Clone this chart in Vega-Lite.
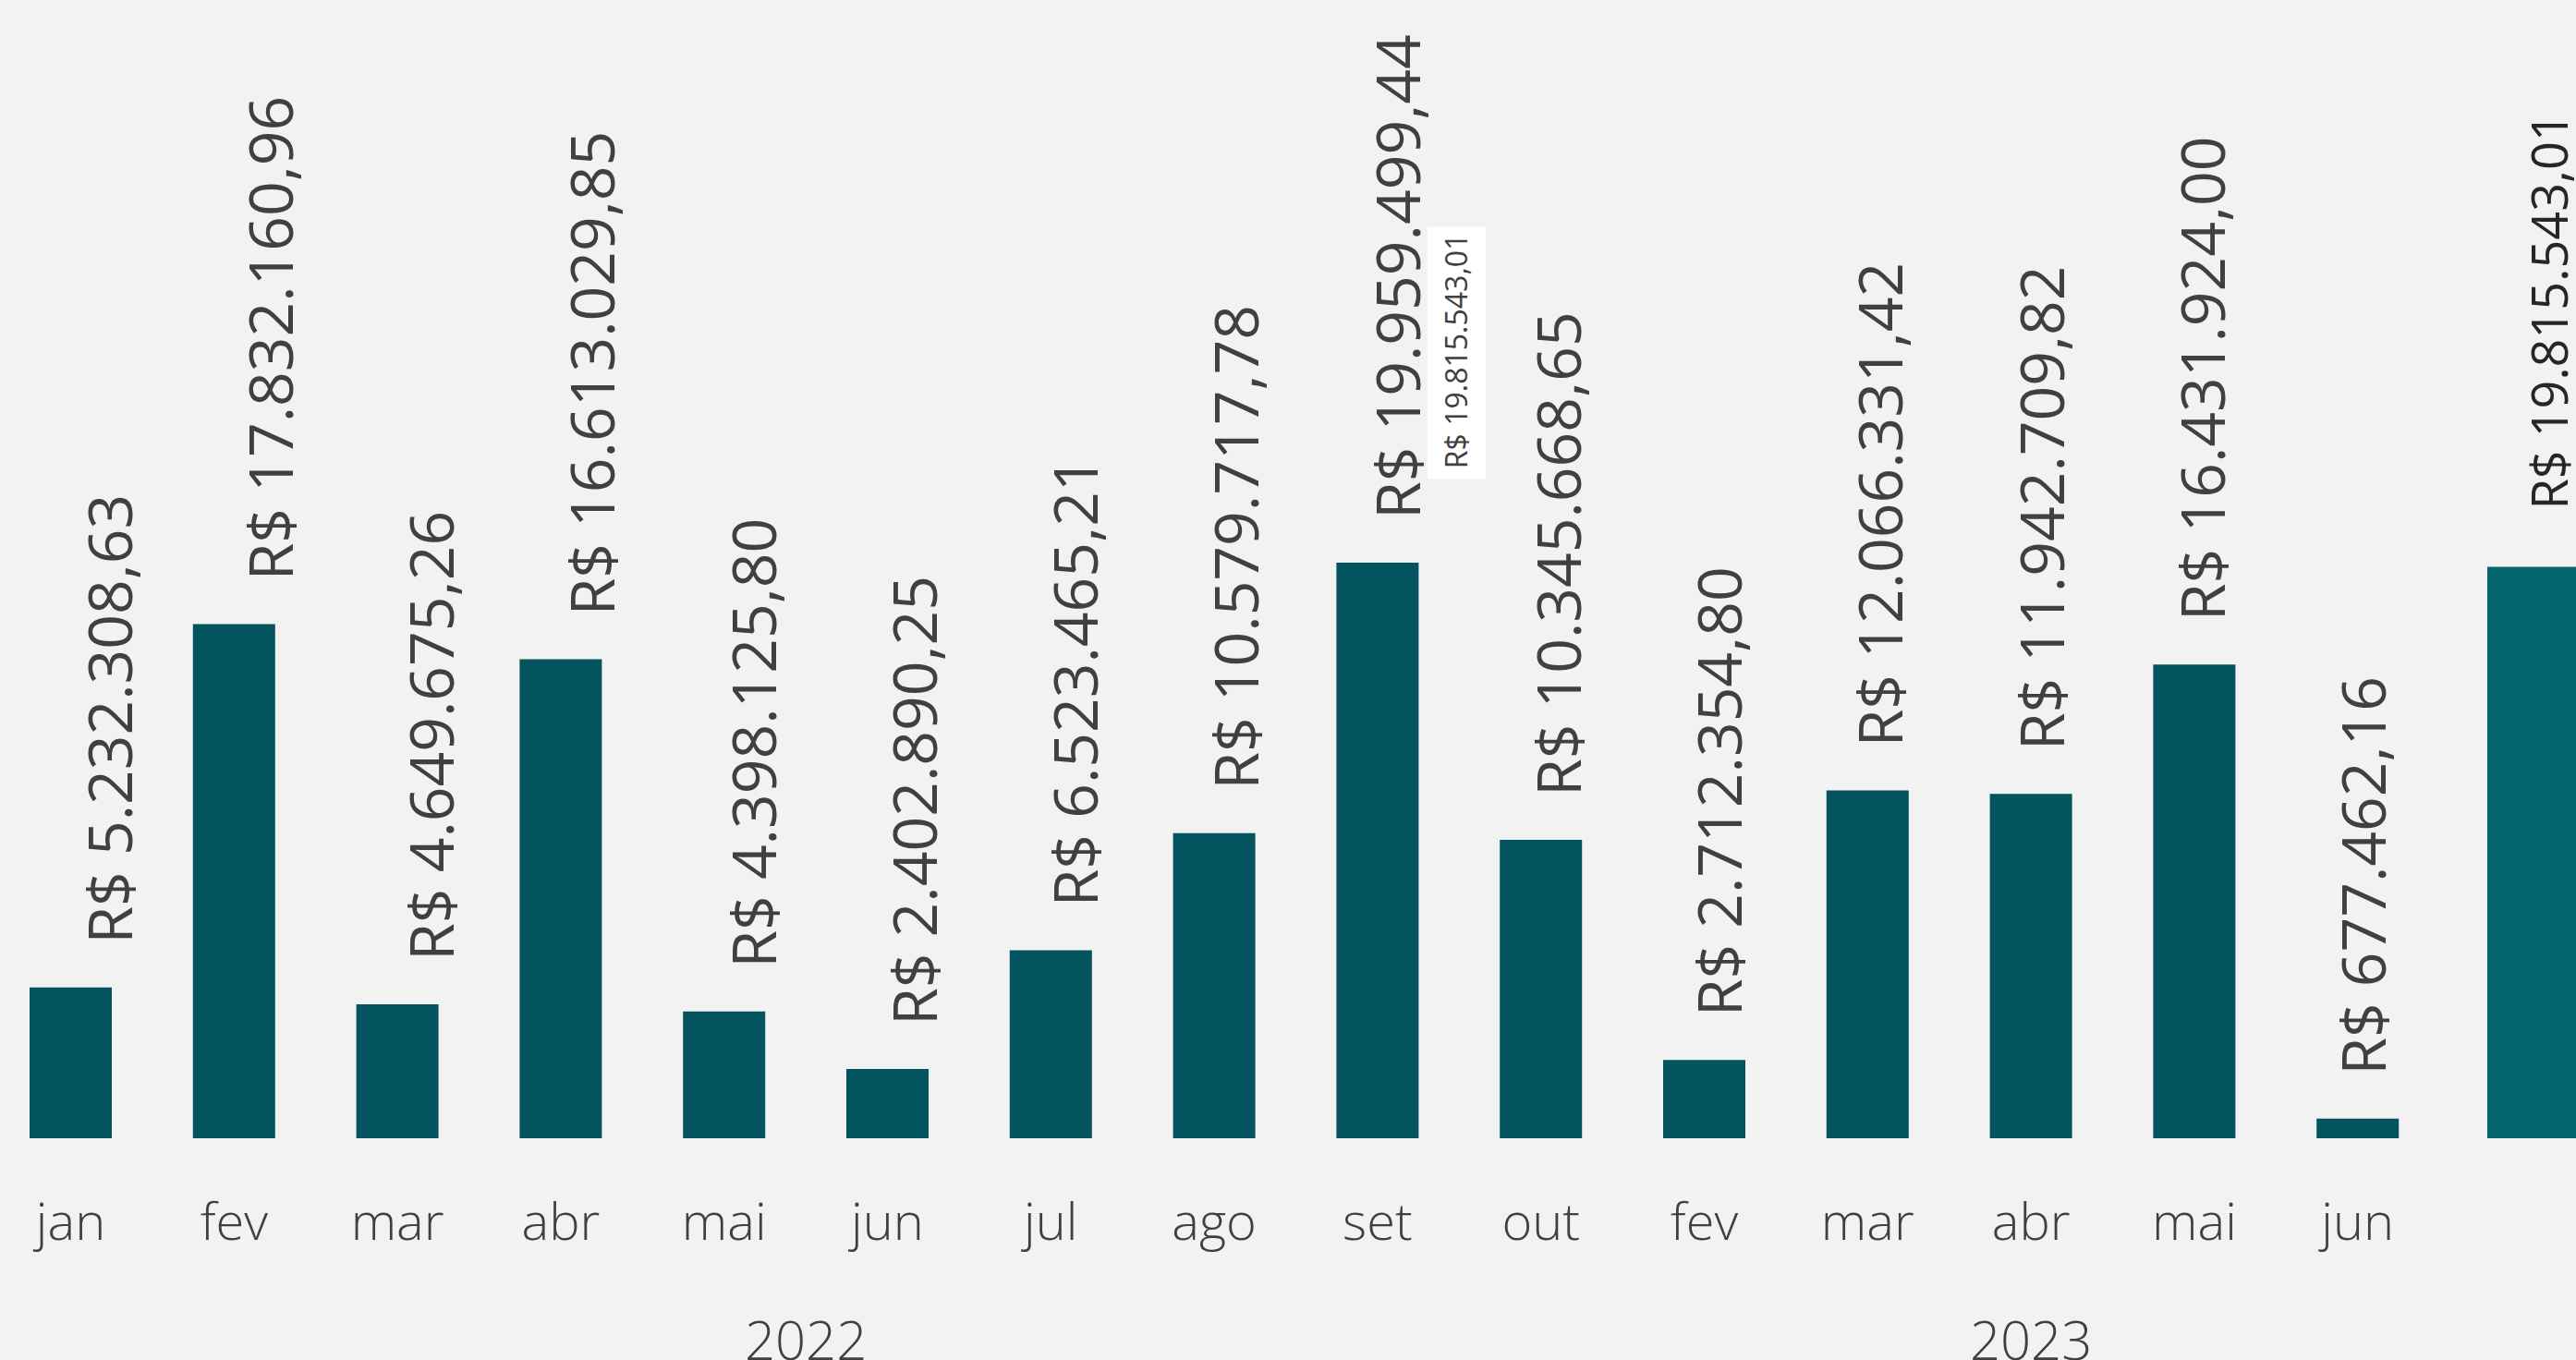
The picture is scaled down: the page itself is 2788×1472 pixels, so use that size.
{
  "$schema": "https://vega.github.io/schema/vega-lite/v6.json",
  "width": 2788,
  "height": 1232,
  "autosize": {"type": "none"},
  "padding": {"left": 0, "top": 0, "right": 0, "bottom": 240},
  "background": "#F2F2F2",
  "config": {"view": {"stroke": null}, "font": "Open Sans"},
  "datasets": {
    "faturamento": [
      {"ordem": 1, "chave": "jan 2022", "ano": "2022", "valor": 5232308.63, "rotulo": "R$ 5.232.308,63"},
      {"ordem": 2, "chave": "fev 2022", "ano": "2022", "valor": 17832160.96, "rotulo": "R$ 17.832.160,96"},
      {"ordem": 3, "chave": "mar 2022", "ano": "2022", "valor": 4649675.26, "rotulo": "R$ 4.649.675,26"},
      {"ordem": 4, "chave": "abr 2022", "ano": "2022", "valor": 16613029.85, "rotulo": "R$ 16.613.029,85"},
      {"ordem": 5, "chave": "mai 2022", "ano": "2022", "valor": 4398125.80, "rotulo": "R$ 4.398.125,80"},
      {"ordem": 6, "chave": "jun 2022", "ano": "2022", "valor": 2402890.25, "rotulo": "R$ 2.402.890,25"},
      {"ordem": 7, "chave": "jul 2022", "ano": "2022", "valor": 6523465.21, "rotulo": "R$ 6.523.465,21"},
      {"ordem": 8, "chave": "ago 2022", "ano": "2022", "valor": 10579717.78, "rotulo": "R$ 10.579.717,78"},
      {"ordem": 9, "chave": "set 2022", "ano": "2022", "valor": 19959499.44, "rotulo": "R$ 19.959.499,44"},
      {"ordem": 10, "chave": "out 2022", "ano": "2022", "valor": 10345668.65, "rotulo": "R$ 10.345.668,65"},
      {"ordem": 11, "chave": "fev 2023", "ano": "2023", "valor": 2712354.80, "rotulo": "R$ 2.712.354,80"},
      {"ordem": 12, "chave": "mar 2023", "ano": "2023", "valor": 12066331.42, "rotulo": "R$ 12.066.331,42"},
      {"ordem": 13, "chave": "abr 2023", "ano": "2023", "valor": 11942709.82, "rotulo": "R$ 11.942.709,82"},
      {"ordem": 14, "chave": "mai 2023", "ano": "2023", "valor": 16431924.00, "rotulo": "R$ 16.431.924,00"},
      {"ordem": 15, "chave": "jun 2023", "ano": "2023", "valor": 677462.16, "rotulo": "R$ 677.462,16"},
      {"ordem": 16, "chave": "destaque", "ano": null, "valor": 19815543.01, "rotulo": "R$ 19.815.543,01"}
    ],
    "dica": [
      {"texto": "R$ 19.815.543,01"}
    ]
  },
  "data": {"name": "faturamento"},
  "resolve": {"scale": {"x": "independent"}, "axis": {"x": "independent"}},
  "layer": [
    {
      "transform": [{"filter": "datum.ordem < 16"}],
      "mark": {"type": "bar", "color": "#03545F"},
      "encoding": {
        "x": {
          "field": "chave", "type": "nominal",
          "scale": {
            "domain": ["jan 2022", "fev 2022", "mar 2022", "abr 2022", "mai 2022", "jun 2022", "jul 2022", "ago 2022", "set 2022", "out 2022", "fev 2023", "mar 2023", "abr 2023", "mai 2023", "jun 2023", "destaque"],
            "paddingInner": 0.4966, "paddingOuter": 0.1329, "align": 0.681
          },
          "axis": {
            "title": null, "domain": false, "ticks": false, "tickSize": 0, "grid": false,
            "labelAngle": 0, "labelAlign": "center", "labelBaseline": "alphabetic",
            "labelPadding": 109, "labelFontSize": 56, "labelFont": "Open Sans",
            "labelFontWeight": 300, "labelColor": "#404040",
            "labelExpr": "datum.value == 'destaque' ? '' : split(datum.value, ' ')[0]"
          }
        },
        "y": {"field": "valor", "type": "quantitative", "scale": {"domain": [0, 39474000], "nice": false}, "axis": null}
      }
    },
    {
      "transform": [{"filter": "datum.ordem == 16"}],
      "mark": {"type": "bar", "color": "#05666D", "width": 100, "xOffset": 13.5},
      "encoding": {
        "x": {
          "field": "chave", "type": "nominal",
          "scale": {
            "domain": ["jan 2022", "fev 2022", "mar 2022", "abr 2022", "mai 2022", "jun 2022", "jul 2022", "ago 2022", "set 2022", "out 2022", "fev 2023", "mar 2023", "abr 2023", "mai 2023", "jun 2023", "destaque"],
            "paddingInner": 0.4966, "paddingOuter": 0.1329, "align": 0.681
          },
          "axis": null
        },
        "y": {"field": "valor", "type": "quantitative", "scale": {"domain": [0, 39474000], "nice": false}, "axis": null}
      }
    },
    {
      "transform": [{"filter": "datum.ordem < 16"}],
      "mark": {"type": "text", "angle": 270, "align": "left", "baseline": "middle", "dx": 47, "dy": 4, "fontSize": 66, "font": "Open Sans", "color": "#404040"},
      "encoding": {
        "x": {
          "field": "chave", "type": "nominal",
          "scale": {
            "domain": ["jan 2022", "fev 2022", "mar 2022", "abr 2022", "mai 2022", "jun 2022", "jul 2022", "ago 2022", "set 2022", "out 2022", "fev 2023", "mar 2023", "abr 2023", "mai 2023", "jun 2023", "destaque"],
            "paddingInner": 0.4966, "paddingOuter": 0.1329, "align": 0.681
          },
          "axis": null
        },
        "y": {"field": "valor", "type": "quantitative", "scale": {"domain": [0, 39474000], "nice": false}, "axis": null},
        "text": {"field": "rotulo"}
      }
    },
    {
      "transform": [{"filter": "datum.ordem == 16"}],
      "mark": {"type": "text", "angle": 270, "align": "left", "baseline": "middle", "dx": 62, "dy": 31, "fontSize": 54, "font": "Open Sans", "color": "#262626"},
      "encoding": {
        "x": {
          "field": "chave", "type": "nominal",
          "scale": {
            "domain": ["jan 2022", "fev 2022", "mar 2022", "abr 2022", "mai 2022", "jun 2022", "jul 2022", "ago 2022", "set 2022", "out 2022", "fev 2023", "mar 2023", "abr 2023", "mai 2023", "jun 2023", "destaque"],
            "paddingInner": 0.4966, "paddingOuter": 0.1329, "align": 0.681
          },
          "axis": null
        },
        "y": {"field": "valor", "type": "quantitative", "scale": {"domain": [0, 39474000], "nice": false}, "axis": null},
        "text": {"field": "rotulo"}
      }
    },
    {
      "transform": [
        {"filter": "isValid(datum.ano)"},
        {"aggregate": [{"op": "mean", "field": "ordem", "as": "centro"}], "groupby": ["ano"]}
      ],
      "mark": {"type": "text", "align": "center", "baseline": "alphabetic", "fontSize": 58, "font": "Open Sans", "fontWeight": 300, "color": "#404040"},
      "encoding": {
        "x": {"field": "centro", "type": "quantitative", "scale": {"domain": [0.5673, 16.3365], "nice": false, "zero": false}, "axis": null},
        "y": {"datum": -7690000, "type": "quantitative", "scale": {"domain": [0, 39474000], "nice": false}, "axis": null},
        "text": {"field": "ano"}
      }
    },
    {
      "data": {"name": "dica"},
      "mark": {"type": "rect", "color": "#FFFFFF"},
      "encoding": {
        "x": {"datum": 9.306, "type": "quantitative", "scale": {"domain": [0.5673, 16.3365], "nice": false, "zero": false}, "axis": null},
        "x2": {"datum": 9.662},
        "y": {"datum": 31620000, "type": "quantitative", "scale": {"domain": [0, 39474000], "nice": false}, "axis": null},
        "y2": {"datum": 22880000}
      }
    },
    {
      "data": {"name": "dica"},
      "mark": {"type": "text", "angle": 270, "align": "center", "baseline": "middle", "dy": 2, "fontSize": 32, "font": "Open Sans", "color": "#404040"},
      "encoding": {
        "x": {"datum": 9.48, "type": "quantitative", "scale": {"domain": [0.5673, 16.3365], "nice": false, "zero": false}, "axis": null},
        "y": {"datum": 27300000, "type": "quantitative", "scale": {"domain": [0, 39474000], "nice": false}, "axis": null},
        "text": {"field": "texto"}
      }
    }
  ]
}
